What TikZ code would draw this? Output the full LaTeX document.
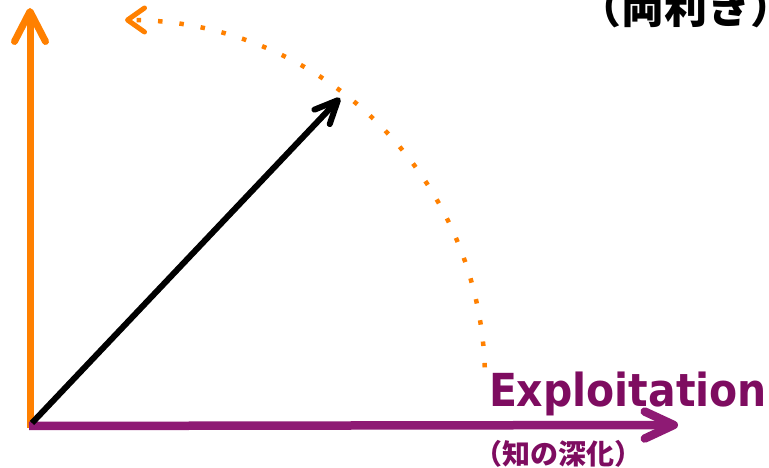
\documentclass[tikz,border=0pt]{standalone}
\usepackage{fontspec}
\usetikzlibrary{arrows.meta}
\newfontfamily\latinbold{DejaVu Sans Condensed}
\newfontfamily\jpfont{Noto Sans CJK JP}
\definecolor{orng}{RGB}{255,128,0}
\definecolor{purp}{RGB}{142,26,116}
\definecolor{purptext}{RGB}{126,12,96}
\tikzset{
  orangeaxis/.style={draw=orng, line width=7pt, -{Straight Barb[length=30pt,width=31pt,round]}},
  purpleaxis/.style={draw=purp, line width=8.5pt, -{Straight Barb[length=29pt,width=27pt,round]}},
  vectorarrow/.style={draw=black, line width=6pt, -{Straight Barb[length=23pt,width=21pt,round]}},
  dotarc/.style={draw=orng, line width=4.5pt, dash pattern=on 4.5pt off 17pt, -{Straight Barb[length=17pt,width=24pt,round,line width=5pt]}},
  labeltext/.style={inner sep=0pt, outer sep=0pt}
}
\begin{document}
\begin{tikzpicture}[x=1pt,y=1pt]
\useasboundingbox (0,0) rectangle (769,468);
% named points
\coordinate (oo) at (30,40);
\coordinate (otop) at (30,460);
\coordinate (po) at (29,42);
\coordinate (ptip) at (678,43);
\coordinate (bo) at (32,45);
\coordinate (btip) at (340,370);
\coordinate (arcstart) at ({125+360*cos(2)},{88+360*sin(2)});
% axes
\draw[orangeaxis] (oo) -- (otop);
\draw[purpleaxis] (po) -- (ptip);
\draw[vectorarrow] (bo) -- (btip);
% dotted arc
\draw[dotarc] (arcstart) arc[start angle=2, end angle=90, radius=360];
% labels
\node[labeltext, anchor=base west, text=purptext, font=\latinbold\bfseries\fontsize{45.5}{48}\selectfont] (expl) at (489,61) {Exploitation};
\node[labeltext, anchor=base west, text=purptext, font=\jpfont\bfseries\fontsize{28}{30}\selectfont] (expljp) at (474,3) {（知の深化）};
\node[labeltext, anchor=base west, text=black, font=\jpfont\bfseries\fontsize{43}{46}\selectfont] (ambi) at (578,444) {（両利き）};
\end{tikzpicture}
\end{document}
